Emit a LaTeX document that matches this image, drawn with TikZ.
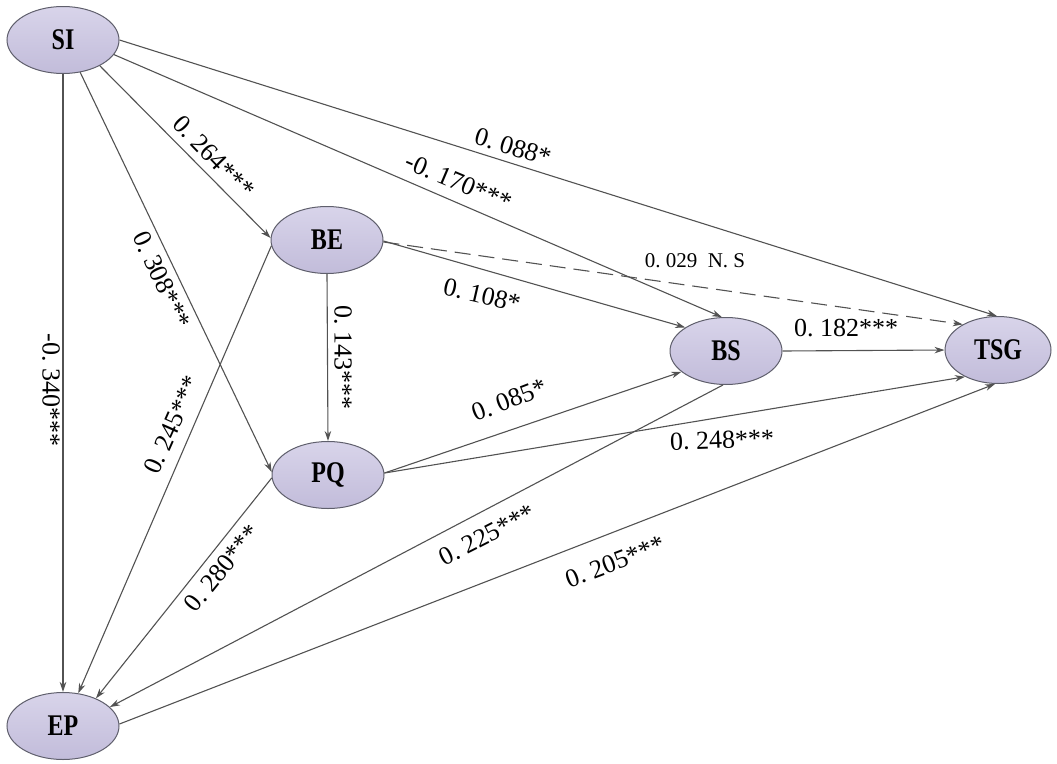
\documentclass[tikz,border=0pt]{standalone}
\usepackage{fontspec}
\setmainfont{Liberation Serif}
\newfontfamily\varfont[FakeStretch=0.8]{Liberation Serif}
\usetikzlibrary{shapes.geometric,arrows.meta}
\definecolor{varline}{RGB}{95,95,108}
\definecolor{vartop}{RGB}{216,212,234}
\definecolor{varbot}{RGB}{194,188,218}
\definecolor{linkgray}{RGB}{82,82,82}

\begin{document}
\begin{tikzpicture}[x=1pt,y=-1pt,
  var/.style={ellipse,draw=varline,line width=1pt,top color=vartop,bottom color=varbot,
    minimum width=112pt,minimum height=67pt,inner sep=0pt,font=\varfont\bfseries\fontsize{30}{34}\selectfont},
  link/.style={draw=linkgray,line width=1.1pt,-{Stealth[length=10pt,width=6.5pt]}},
  coef/.style={inner sep=0pt,font=\fontsize{26}{30}\selectfont}]
  \useasboundingbox (0,0) rectangle (1057,763);

  \node[var] (SI)  at (63,40)   {SI};
  \node[var] (BE)  at (327,240) {BE};
  \node[var] (PQ)  at (328,475) {PQ};
  \node[var] (BS)  at (726,351) {BS};
  \node[var,minimum width=106pt] (TSG) at (998,350) {TSG};
  \node[var] (EP)  at (63,726)  {EP};

  \draw[link] (SI.south) -- (EP.north);
  \draw[link] (SI.-35) -- (BE.178);
  \draw[link] (SI.-62) -- (PQ.177);
  \draw[link] (SI.-16) -- (BS.97);
  \draw[link] (SI.east) -- (TSG.92);
  \draw[link] (BE.south) -- (PQ.north);
  \draw[link] (BE.-1) -- (BS.150);
  \draw[link,dash pattern=on 16pt off 8pt] (BE.-2) -- (TSG.144);
  \draw[link] (BE.186) -- (EP.65);
  \draw[link] (PQ.2) -- (BS.205);
  \draw[link] (PQ.2) -- (TSG.219);
  \draw[link] (PQ.183) -- (EP.40);
  \draw[link] (BS.east) -- (TSG.west);
  \draw[link] (BS.265) -- (EP.22);
  \draw[link] (EP.2) -- (TSG.265);

  \node[coef,rotate=-90] (c-si-ep)  at (51,390)  {-0.\ 340***};
  \node[coef,rotate=-65] (c-si-pq)  at (162,280) {0.\ 308***};
  \node[coef,rotate=-46] (c-si-be)  at (214,157) {0.\ 264***};
  \node[coef,rotate=-23] (c-si-bs)  at (459,182) {-0.\ 170***};
  \node[coef,rotate=-17] (c-si-tsg) at (513,147) {0.\ 088*};
  \node[coef,font=\fontsize{21}{25}\selectfont] (c-be-tsg) at (695,261) {0.\ 029\ \ N.\ S};
  \node[coef,rotate=-13] (c-be-bs)  at (482,295) {0.\ 108*};
  \node[coef,rotate=-90] (c-be-pq)  at (343,357) {0.\ 143***};
  \node[coef,rotate=66]  (c-be-ep)  at (172,425) {0.\ 245***};
  \node[coef,rotate=21]  (c-pq-bs)  at (509,400) {0.\ 085*};
  \node[coef,rotate=2]   (c-pq-tsg) at (722,440) {0.\ 248***};
  \node[coef,rotate=51]  (c-pq-ep)  at (222,568) {0.\ 280***};
  \node[coef]            (c-bs-tsg) at (846,328) {0.\ 182***};
  \node[coef,rotate=27]  (c-bs-ep)  at (487,535) {0.\ 225***};
  \node[coef,rotate=21]  (c-ep-tsg) at (615,562) {0.\ 205***};
\end{tikzpicture}
\end{document}
